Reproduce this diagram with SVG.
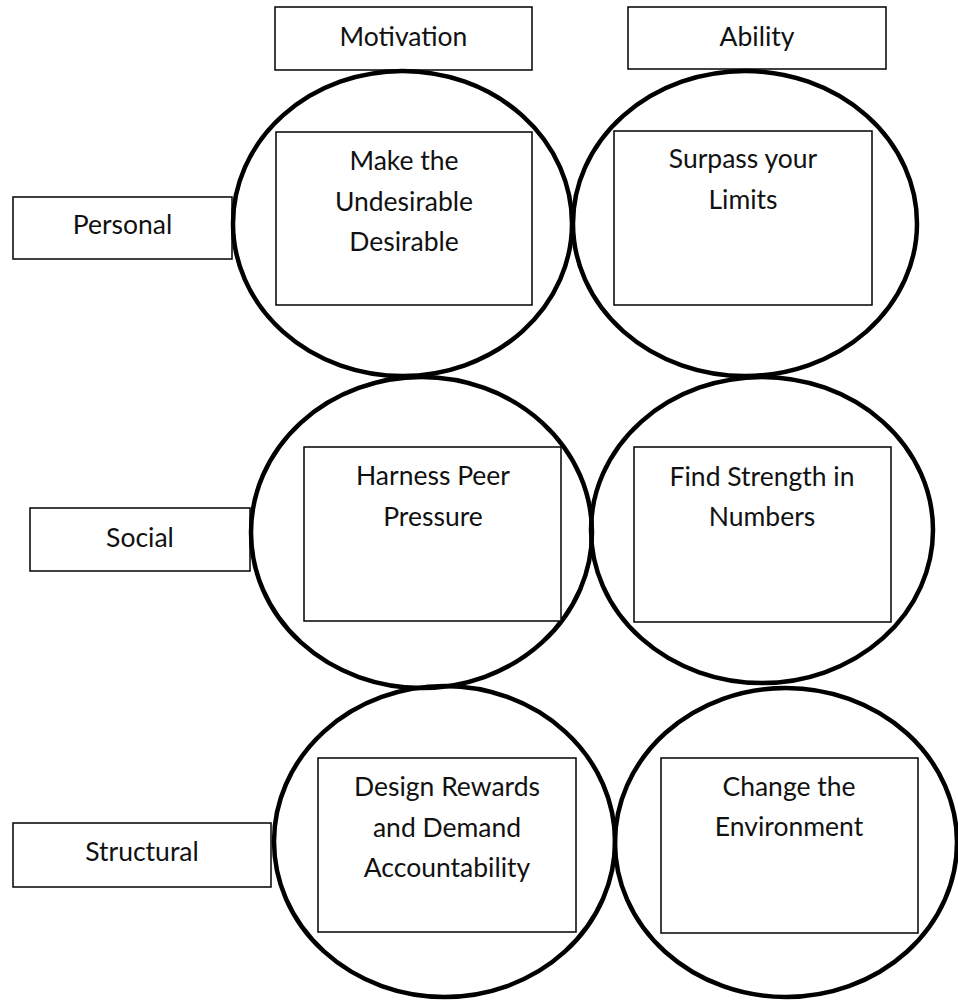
<svg xmlns="http://www.w3.org/2000/svg" width="958" height="1000" viewBox="0 0 958 1000">
<style>
.box{fill:#fff;stroke:#000;stroke-width:1.5}
.ring{fill:none;stroke:#000;stroke-width:4.5}
text{font-family:Lato,"Open Sans","Liberation Sans",sans-serif;font-size:26.5px;fill:#111;text-anchor:middle}
</style>
<rect width="958" height="1000" fill="#fff"/>
<g id="header-motivation"><rect class="box" x="275" y="7" width="257" height="63"/><text x="403.5" y="46">Motivation</text></g>
<g id="header-ability"><rect class="box" x="628" y="7" width="258" height="62"/><text x="757" y="46">Ability</text></g>
<g id="row-personal"><rect class="box" x="13" y="197" width="219" height="62"/><text x="122.5" y="234">Personal</text></g>
<g id="row-social"><rect class="box" x="30" y="508" width="220" height="63"/><text x="140" y="547">Social</text></g>
<g id="row-structural"><rect class="box" x="13" y="823" width="258" height="64"/><text x="142" y="861">Structural</text></g>
<g id="cell-personal-motivation">
<ellipse class="ring" cx="402.5" cy="223.5" rx="169.5" ry="152.5"/>
<rect class="box" x="276" y="132" width="256" height="173"/>
<text x="404" y="170">Make the</text><text x="404" y="211">Undesirable</text><text x="404" y="251">Desirable</text>
</g>
<g id="cell-personal-ability">
<ellipse class="ring" cx="745" cy="223.5" rx="172" ry="152.5"/>
<rect class="box" x="614" y="131" width="258" height="174"/>
<text x="743" y="168">Surpass your</text><text x="743" y="209">Limits</text>
</g>
<g id="cell-social-motivation">
<ellipse class="ring" cx="421.5" cy="532.5" rx="170.5" ry="155.5"/>
<rect class="box" x="304" y="447" width="257" height="174"/>
<text x="433" y="485">Harness Peer</text><text x="433" y="526">Pressure</text>
</g>
<g id="cell-social-ability">
<ellipse class="ring" cx="762" cy="530" rx="171" ry="153"/>
<rect class="box" x="634" y="447" width="257" height="175"/>
<text x="762" y="486">Find Strength in</text><text x="762" y="526">Numbers</text>
</g>
<g id="cell-structural-motivation">
<ellipse class="ring" cx="444.5" cy="841.5" rx="170.5" ry="155.5"/>
<rect class="box" x="318" y="758" width="258" height="174"/>
<text x="447" y="796">Design Rewards</text><text x="447" y="837">and Demand</text><text x="447" y="877">Accountability</text>
</g>
<g id="cell-structural-ability">
<ellipse class="ring" cx="786" cy="842.5" rx="171" ry="154.5"/>
<rect class="box" x="661" y="758" width="257" height="175"/>
<text x="789" y="796">Change the</text><text x="789" y="836">Environment</text>
</g>
<g id="connectors"/>
</svg>
